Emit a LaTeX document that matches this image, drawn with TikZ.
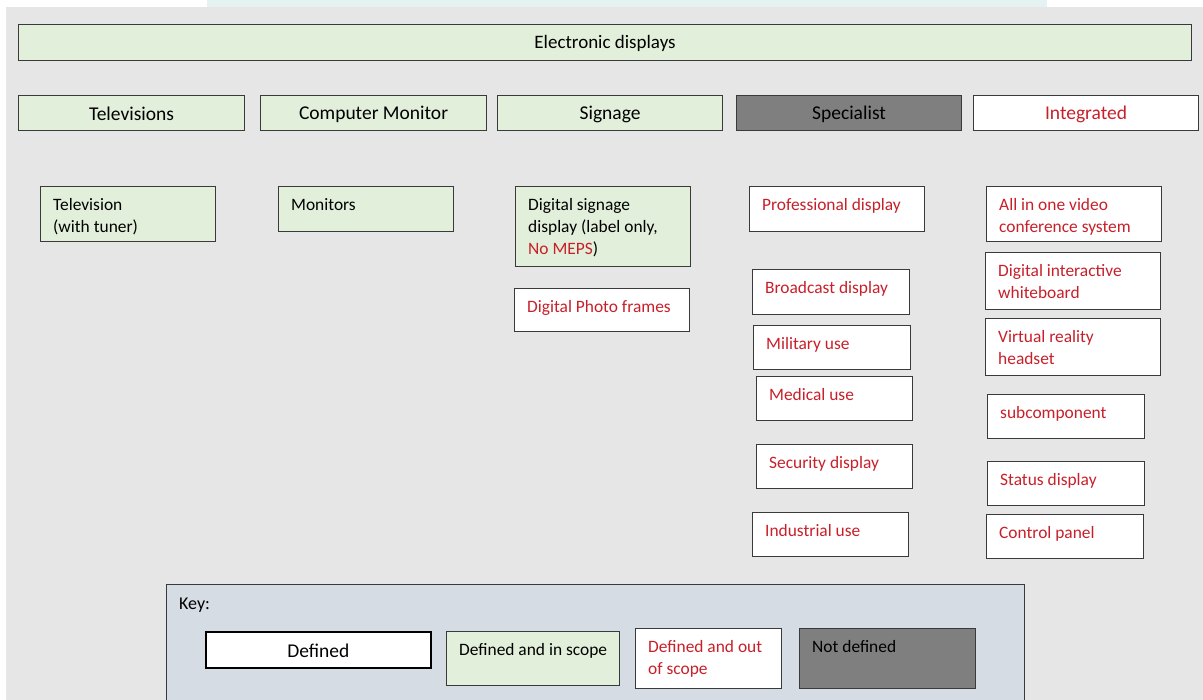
\documentclass[tikz,border=0pt]{standalone}
\usepackage{fontspec}
\setmainfont{Carlito}
\usetikzlibrary{calc}

\definecolor{panel}{HTML}{E6E6E6}
\definecolor{scope}{HTML}{E2EFDA}
\definecolor{nodef}{HTML}{7F7F7F}
\definecolor{keyfill}{HTML}{D6DCE4}
\definecolor{outscope}{HTML}{C8202A}
\definecolor{edge}{HTML}{3A3A3A}
\definecolor{tint}{HTML}{E4F3F1}

\tikzset{
  box/.style={draw=edge, line width=1.1pt, anchor=north west, inner sep=0pt},
  inscope/.style={box, fill=scope},
  outofscope/.style={box, fill=white},
  undefined/.style={box, fill=nodef},
  headtext/.style={font=\fontsize{19.5}{22}\selectfont},
  itemtext/.style={anchor=north west, inner sep=0pt, align=left,
    font=\fontsize{17.4}{22}\selectfont},
  red/.style={text=outscope},
}

% \item box: name, left, top, width, height, box style, text style, text
\newcommand\itembox[8]{%
  \node[#6, minimum width=#4pt, minimum height=#5pt] (#1) at (#2,#3) {};
  \node[itemtext, #7] (#1-t) at ($(#1.north west)+(13,8.6)$) {\strut#8};
}

\begin{document}
\begin{tikzpicture}[x=1pt, y=-1pt]
\useasboundingbox (0,0) rectangle (1203,700);
\clip (0,0) rectangle (1203,700);

% page background
\fill[tint] (207,0) rectangle (1047,7);
\fill[panel] (6,7) rectangle (1205,702);

% top level
\node[inscope, minimum width=1173pt, minimum height=36pt] (top) at (18,24) {};
\node[font=\fontsize{19}{22}\selectfont] (top-t) at ($(top.center)+(0,1)$) {Electronic displays};

% categories
\node[inscope, minimum width=226pt, minimum height=35pt] (tv) at (18,95) {};
\node[headtext] at ($(tv.center)+(0,1)$) {Televisions};
\node[inscope, minimum width=226pt, minimum height=35pt] (mon) at (260,95) {};
\node[headtext] at ($(mon.center)+(0,1)$) {Computer Monitor};
\node[inscope, minimum width=225pt, minimum height=35pt] (sig) at (497,95) {};
\node[headtext] at ($(sig.center)+(0,1)$) {Signage};
\node[undefined, minimum width=225pt, minimum height=35pt] (spec) at (736,95) {};
\node[headtext] at ($(spec.center)+(0,1)$) {Specialist};
\node[outofscope, minimum width=225pt, minimum height=35pt] (integ) at (973,95) {};
\node[headtext, red] at ($(integ.center)+(0,1)$) {Integrated};

% televisions / monitors
\itembox{tvtuner}{40}{186}{175}{55}{inscope}{}{Television\\(with tuner)}
\itembox{monitors}{278}{186}{175}{45}{inscope}{}{Monitors}

% signage
\itembox{dsd}{515}{186}{175}{80}{inscope}{}{Digital signage\\display (label only,\\\textcolor{outscope}{No MEPS})}
\itembox{photo}{514}{288}{175}{43}{outofscope}{red}{Digital Photo frames}

% specialist
\itembox{prof}{749}{186}{175}{45}{outofscope}{red}{Professional display}
\itembox{broad}{752}{269}{157}{45}{outofscope}{red}{Broadcast display}
\itembox{mil}{753}{325}{157}{44}{outofscope}{red}{Military use}
\itembox{med}{756}{376}{156}{44}{outofscope}{red}{Medical use}
\itembox{sec}{756}{444}{156}{44}{outofscope}{red}{Security display}
\itembox{ind}{752}{512}{156}{44}{outofscope}{red}{Industrial use}

% integrated
\itembox{conf}{986}{186}{175}{55}{outofscope}{red}{All in one video\\conference system}
\itembox{white}{985}{252}{175}{57}{outofscope}{red}{Digital interactive\\whiteboard}
\itembox{vr}{985}{318}{175}{57}{outofscope}{red}{Virtual reality\\headset}
\itembox{subc}{987}{394}{157}{44}{outofscope}{red}{subcomponent}
\itembox{status}{987}{461}{157}{44}{outofscope}{red}{Status display}
\itembox{ctrl}{986}{514}{157}{44}{outofscope}{red}{Control panel}

% key
\node[box, fill=keyfill, minimum width=858pt, minimum height=130pt] (key) at (166,584) {};
\node[anchor=base west, inner sep=0pt, font=\fontsize{18}{22}\selectfont] (key-t) at ($(key.north west)+(13,25)$) {Key:};
\node[box, draw=black, line width=1.6pt, fill=white, minimum width=225pt, minimum height=36pt] (kdef) at (205,631) {};
\node[font=\fontsize{19.5}{22}\selectfont] at ($(kdef.center)+(0,1)$) {Defined};
\itembox{kin}{446}{631}{173}{54}{inscope}{}{Defined and in scope}
\itembox{kout}{635}{628}{146}{60}{outofscope}{red}{Defined and out\\of scope}
\itembox{knot}{799}{628}{176}{60}{undefined}{}{Not defined}
\end{tikzpicture}
\end{document}
